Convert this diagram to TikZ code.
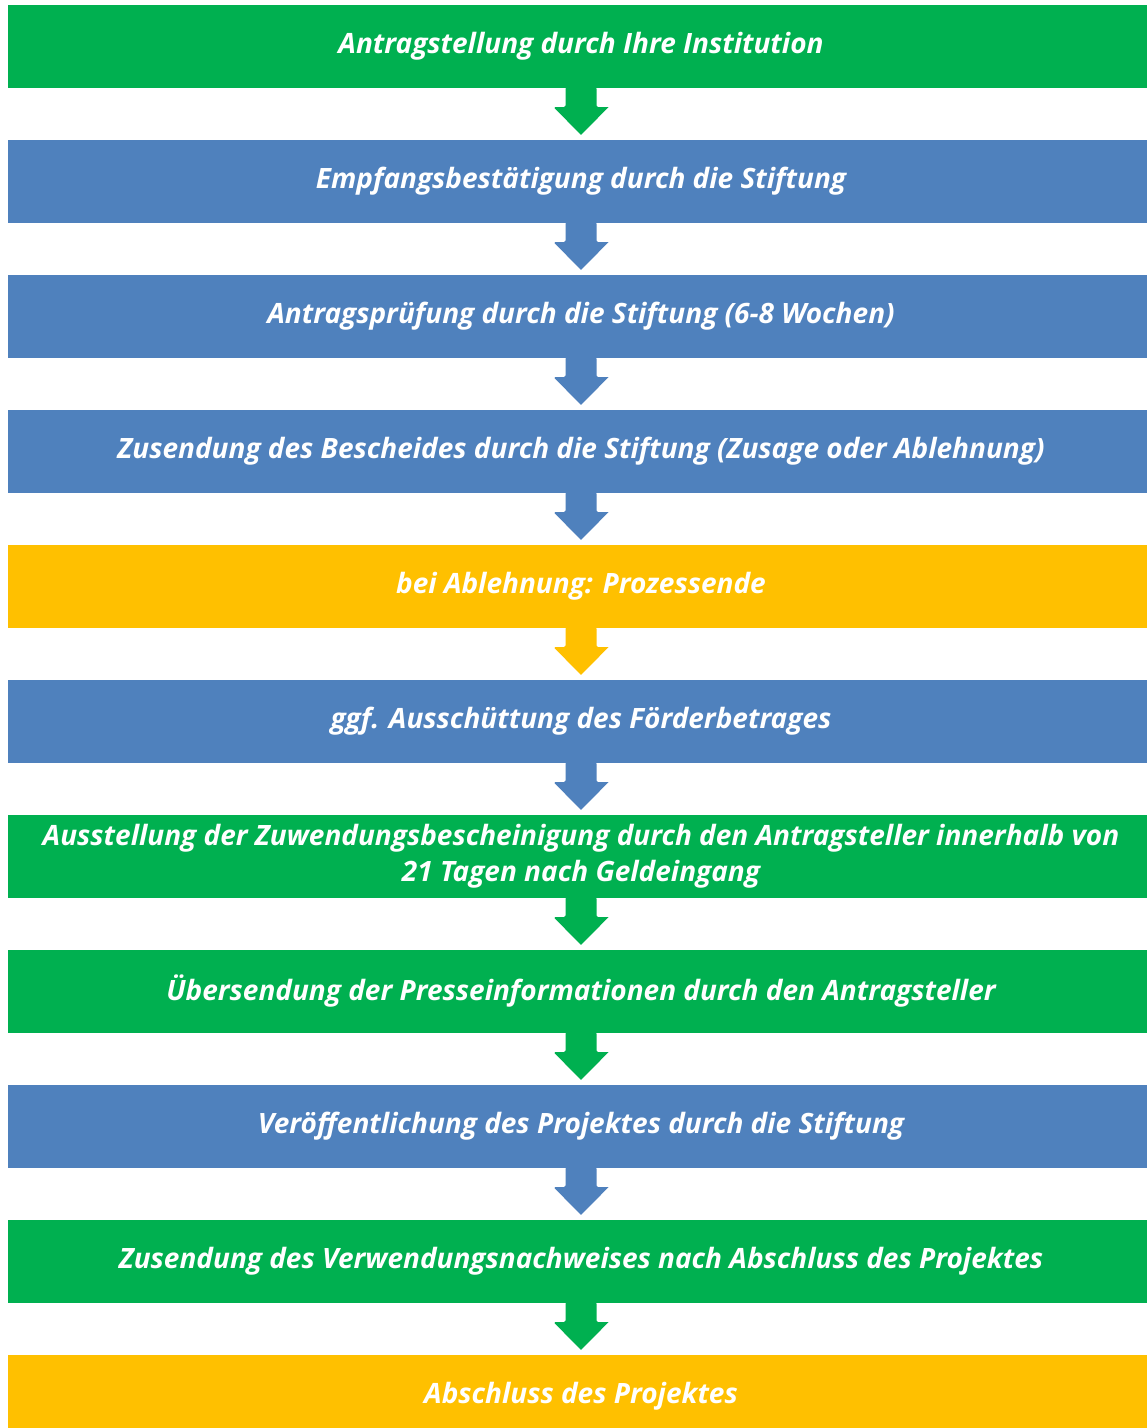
\documentclass[tikz,border=0pt]{standalone}
\usepackage{fontspec}
\setmainfont{Open Sans}
\usetikzlibrary{calc}
\definecolor{fgreen}{HTML}{00B050}
\definecolor{fblue}{HTML}{4F81BD}
\definecolor{fgold}{HTML}{FFC000}
\tikzset{
  stepbox/.style={rectangle, minimum width=1146pt, minimum height=83pt, inner sep=0pt,
    text=white, font=\fontsize{28}{36}\selectfont\bfseries\itshape, align=center},
  greenbox/.style={stepbox, fill=fgreen},
  bluebox/.style={stepbox, fill=fblue},
  goldbox/.style={stepbox, fill=fgold},
}
\newcommand\flowarrow[3]{%
  \fill[#3, rounded corners=1.5pt] ($(#1.south)+(-15.5,-1)$) -- ($(#1.south)+(-15.5,19)$)
    -- ($(#1.south)+(-27.5,19)$) [sharp corners] -- ($(#2.north)+(0,-5)$)
    -- ($(#1.south)+(27.5,19)$) [rounded corners=1.5pt] -- ($(#1.south)+(15.5,19)$)
    -- ($(#1.south)+(15.5,-1)$) -- cycle;}
\begin{document}
\begin{tikzpicture}[x=1pt,y=-1pt]
\clip (0,0) rectangle (1147,1428);
\fill[white] (0,0) rectangle (1147,1428);
\node[greenbox] (b1)  at (581,46.5)   {Antragstellung durch Ihre Institution};
\node[bluebox]  (b2)  at (581,181.5)  {Empfangsbestätigung durch die Stiftung};
\node[bluebox]  (b3)  at (581,316.5)  {Antragsprüfung durch die Stiftung (6-8 Wochen)};
\node[bluebox]  (b4)  at (581,451.5)  {Zusendung des Bescheides durch die Stiftung (Zusage oder Ablehnung)};
\node[goldbox]  (b5)  at (581,586.5)  {bei Ablehnung: Prozessende};
\node[bluebox]  (b6)  at (581,721.5)  {ggf. Ausschüttung des Förderbetrages};
\node[greenbox] (b7)  at (581,856.5)  {Ausstellung der Zuwendungsbescheinigung durch den Antragsteller innerhalb von\\21 Tagen nach Geldeingang};
\node[greenbox] (b8)  at (581,991.5)  {Übersendung der Presseinformationen durch den Antragsteller};
\node[bluebox]  (b9)  at (581,1126.5) {Veröffentlichung des Projektes durch die Stiftung};
\node[greenbox] (b10) at (581,1261.5) {Zusendung des Verwendungsnachweises nach Abschluss des Projektes};
\node[goldbox]  (b11) at (581,1396.5) {Abschluss des Projektes};
\flowarrow{b1}{b2}{fgreen}
\flowarrow{b2}{b3}{fblue}
\flowarrow{b3}{b4}{fblue}
\flowarrow{b4}{b5}{fblue}
\flowarrow{b5}{b6}{fgold}
\flowarrow{b6}{b7}{fblue}
\flowarrow{b7}{b8}{fgreen}
\flowarrow{b8}{b9}{fgreen}
\flowarrow{b9}{b10}{fblue}
\flowarrow{b10}{b11}{fgreen}
\end{tikzpicture}
\end{document}
